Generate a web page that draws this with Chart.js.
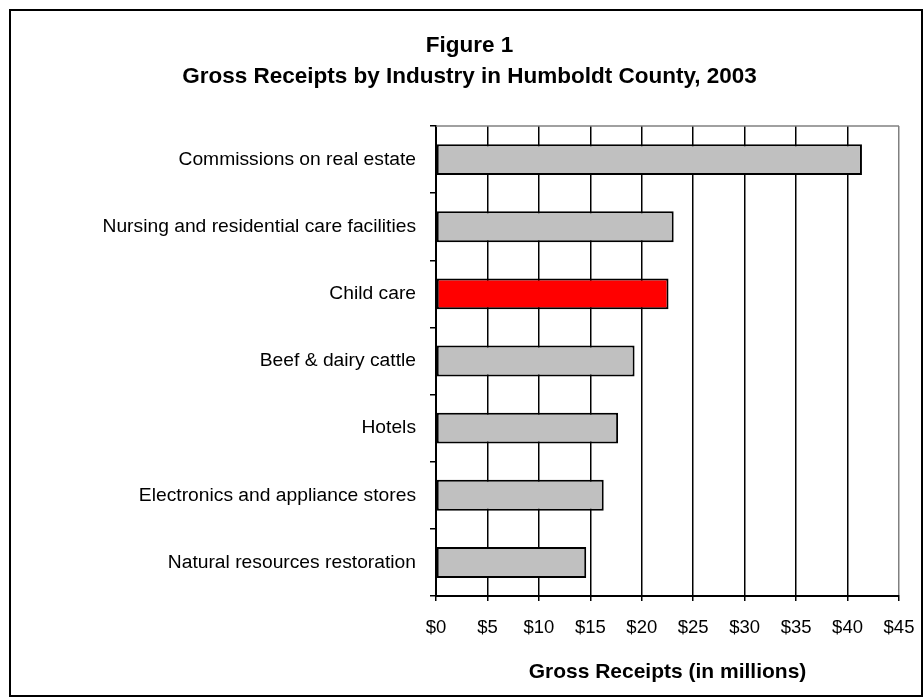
<!DOCTYPE html>
<html>
<head>
<meta charset="utf-8">
<title>Gross Receipts by Industry</title>
<script src="https://cdn.jsdelivr.net/npm/chart.js@4"></script>
<style>
  html, body { margin: 0; padding: 0; background: #fff; }
  canvas { display: block; }
</style>
</head>
<body>
<canvas id="receipts-chart" width="924" height="698"></canvas>
<script>
// Data
const industries = [
    'Commissions on real estate',
    'Nursing and residential care facilities',
    'Child care',
    'Beef & dairy cattle',
    'Hotels',
    'Electronics and appliance stores',
    'Natural resources restoration'
];
const receipts = [41.4, 23.1, 22.6, 19.3, 17.7, 16.3, 14.6];   // $ millions
const highlighted = 'Child care';
const titleLines = ['Figure 1', 'Gross Receipts by Industry in Humboldt County, 2003'];
const axisTitle = 'Gross Receipts (in millions)';

const fontFamily = '"Liberation Sans", Arial, sans-serif';

// white page, black frame round everything, gray line across top of plot
const framePlugin = {
    id: 'frame',
    beforeDraw(chart) {
        const c = chart.ctx;
        c.save();
        c.fillStyle = '#fff';
        c.fillRect(0, 0, chart.width, chart.height);
        c.restore();
    },
    afterDraw(chart) {
        const c = chart.ctx;
        const area = chart.chartArea;
        c.save();
        c.strokeStyle = '#808080';
        c.lineWidth = 1.5;
        c.beginPath();
        c.moveTo(area.left, area.top);
        c.lineTo(area.right, area.top);
        c.stroke();
        c.strokeStyle = '#000';
        c.lineWidth = 2;
        c.strokeRect(10, 10, 912, 686);
        c.restore();
    }
};

const ctx = document.getElementById('receipts-chart');
const receiptsChart = new Chart(ctx, {
    type: 'bar',
    data: {
        labels: industries,
        datasets: [{
            label: 'Gross Receipts',
            data: receipts,
            backgroundColor: (c) => industries[c.dataIndex] === highlighted ? '#ff0000' : '#c0c0c0',
            borderColor: '#000',
            borderWidth: 2,
            borderSkipped: false,
            barPercentage: 0.46,
            categoryPercentage: 1
        }]
    },
    options: {
        indexAxis: 'y',
        responsive: false,
        animation: false,
        layout: {
            padding: { top: 0, left: 40, right: 25, bottom: 0 }
        },
        plugins: {
            legend: { display: false },
            tooltip: { enabled: false },
            title: {
                display: true,
                text: titleLines,
                color: '#000',
                font: { family: fontFamily, size: 22.5, weight: 'bold', lineHeight: 1.38 },
                padding: { top: 30, bottom: 34 }
            }
        },
        scales: {
            x: {
                min: 0,
                max: 45,
                afterFit: (scale) => {
                    // fixed axis band; the $45 label may hang into the right margin
                    scale.height = 102;
                    scale.paddingLeft = 0;
                    scale.paddingRight = 0;
                },
                ticks: {
                    stepSize: 5,
                    padding: 16,
                    color: '#000',
                    font: { family: fontFamily, size: 18.5 },
                    callback: (v) => '$' + v
                },
                grid: {
                    color: (c) => c.index === 9 ? '#808080' : '#000',
                    lineWidth: 1.5,
                    tickColor: '#000',
                    tickLength: 5
                },
                border: { color: '#000', width: 2 },
                title: {
                    display: true,
                    text: axisTitle,
                    color: '#000',
                    font: { family: fontFamily, size: 21, weight: 'bold' },
                    padding: { top: 0, bottom: 13 }
                }
            },
            y: {
                afterFit: (scale) => { scale.width = 396; },
                ticks: {
                    padding: 14,
                    color: '#000',
                    font: { family: fontFamily, size: 19.25 }
                },
                grid: {
                    drawOnChartArea: false,
                    color: '#000',
                    tickLength: 6,
                    lineWidth: 1.5
                },
                border: { color: '#000', width: 2 }
            }
        }
    },
    plugins: [framePlugin]
});
</script>
</body>
</html>
